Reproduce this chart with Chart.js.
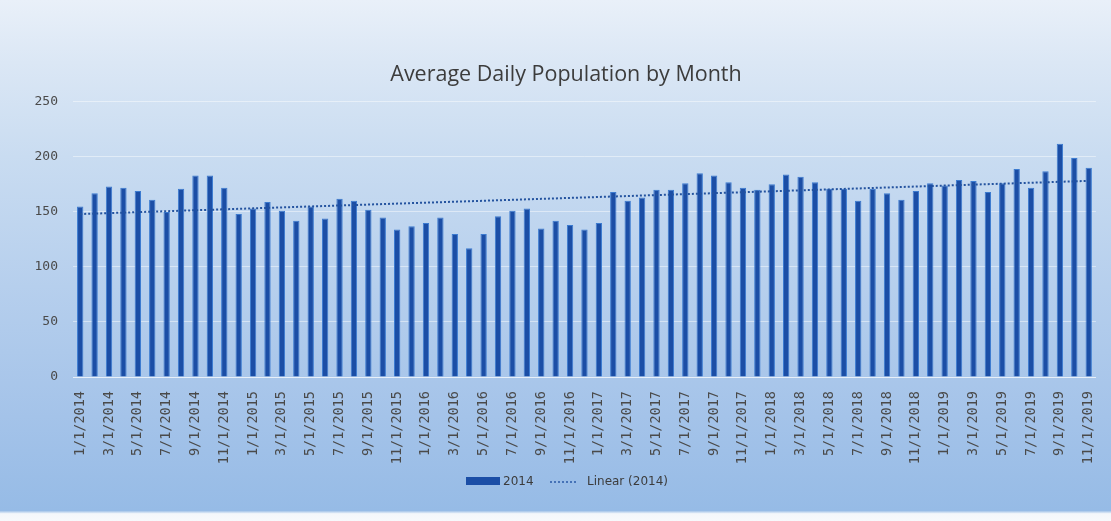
<!DOCTYPE html>
<html>
<head>
<meta charset="utf-8">
<script src="https://cdn.jsdelivr.net/npm/chart.js@4.4.1/dist/chart.umd.min.js"></script>
<style>
  html, body { margin: 0; padding: 0; }
  body {
    width: 1111px; height: 521px; overflow: hidden;
    background: linear-gradient(to bottom, #e9f0f9 0%, #dbe7f5 12%, #c9dcf1 30%, #b6cfed 55%, #a4c3e9 80%, #96bbe6 98%, #f4f7fb 98.6%, #f7f9fc 100%);
  }
  #wrap { position: absolute; left: 0; top: 0; width: 1111px; height: 521px; }
</style>
</head>
<body>
<div id="wrap"><canvas id="chart" width="1111" height="521"></canvas></div>
<script>
// categorii lunare 1/1/2014 .. 11/1/2019
const months = [
  '1/1/2014', '2/1/2014', '3/1/2014', '4/1/2014', '5/1/2014', '6/1/2014', '7/1/2014', '8/1/2014', '9/1/2014', '10/1/2014', '11/1/2014', '12/1/2014',
  '1/1/2015', '2/1/2015', '3/1/2015', '4/1/2015', '5/1/2015', '6/1/2015', '7/1/2015', '8/1/2015', '9/1/2015', '10/1/2015', '11/1/2015', '12/1/2015',
  '1/1/2016', '2/1/2016', '3/1/2016', '4/1/2016', '5/1/2016', '6/1/2016', '7/1/2016', '8/1/2016', '9/1/2016', '10/1/2016', '11/1/2016', '12/1/2016',
  '1/1/2017', '2/1/2017', '3/1/2017', '4/1/2017', '5/1/2017', '6/1/2017', '7/1/2017', '8/1/2017', '9/1/2017', '10/1/2017', '11/1/2017', '12/1/2017',
  '1/1/2018', '2/1/2018', '3/1/2018', '4/1/2018', '5/1/2018', '6/1/2018', '7/1/2018', '8/1/2018', '9/1/2018', '10/1/2018', '11/1/2018', '12/1/2018',
  '1/1/2019', '2/1/2019', '3/1/2019', '4/1/2019', '5/1/2019', '6/1/2019', '7/1/2019', '8/1/2019', '9/1/2019', '10/1/2019', '11/1/2019'
];

// populatia medie zilnica
const population = [
  155, 167, 173, 172, 169, 161, 150, 171, 183, 183, 172, 148,
  153, 159, 151, 142, 155, 144, 162, 160, 152, 145, 134, 137,
  140, 145, 130, 117, 130, 146, 151, 153, 135, 142, 138, 134,
  140, 168, 160, 163, 170, 170, 176, 185, 183, 177, 172, 170,
  175, 184, 182, 177, 171, 171, 160, 171, 167, 161, 169, 176,
  174, 179, 178, 168, 176, 189, 172, 187, 212, 199, 190
];

const yTicks = [0, 50, 100, 150, 200, 250];

// trendline liniar (least squares), ca in Excel
function linearTrend(vals) {
  const n = vals.length;
  let sx = 0, sy = 0, sxy = 0, sxx = 0;
  vals.forEach((v, i) => { sx += i; sy += v; sxy += i * v; sxx += i * i; });
  const b = (n * sxy - sx * sy) / (n * sxx - sx * sx);
  const a = (sy - b * sx) / n;
  return vals.map((_, i) => a + b * i);
}
const trend = linearTrend(population);

const textGray = '#3c3c3c';
const monoFont = '"DejaVu Sans Mono", "Liberation Mono", monospace';

// legenda desenata manual (cutie lata + linie punctata)
const legendPlugin = {
  id: 'customLegend',
  afterDraw(chart) {
    const ctx = chart.ctx;
    const y = 481;
    ctx.save();
    ctx.fillStyle = '#1b4ea6';
    ctx.fillRect(466, y - 4, 34, 8);
    ctx.font = '12px "DejaVu Sans", sans-serif';
    ctx.fillStyle = textGray;
    ctx.textBaseline = 'middle';
    ctx.fillText('2014', 503, y + 1);
    ctx.strokeStyle = '#2a5aa8';
    ctx.lineWidth = 1.5;
    ctx.setLineDash([2, 2]);
    ctx.beginPath();
    ctx.moveTo(550, y + 1);
    ctx.lineTo(578, y + 1);
    ctx.stroke();
    ctx.setLineDash([]);
    ctx.fillText('Linear (2014)', 587, y + 1);
    ctx.restore();
  },
};

new Chart(document.getElementById('chart'), {
  data: {
    labels: months,
    datasets: [
      {
        type: 'bar',
        label: '2014',
        data: population,
        backgroundColor: '#1b4ea6',
        borderColor: '#3c7bd0',
        borderWidth: 1,
        barPercentage: 0.44,
        categoryPercentage: 1,
        order: 2,
      },
      {
        type: 'line',
        label: 'Linear (2014)',
        data: trend,
        borderColor: '#24539f',
        borderWidth: 2,
        borderDash: [2, 2],
        pointRadius: 0,
        fill: false,
        order: 1,
      },
    ],
  },
  options: {
    responsive: false,
    animation: false,
    layout: { padding: { left: 32, right: 11, top: 0, bottom: 0 } },
    plugins: {
      legend: { display: false },
      tooltip: { enabled: false },
      title: {
        display: true,
        text: 'Average Daily Population by Month',
        color: textGray,
        font: { family: '"Open Sans", sans-serif', size: 21.5, weight: 'normal' },
        padding: { top: 62, bottom: 14 },
      },
    },
    scales: {
      x: {
        grid: { display: false },
        border: { display: true, color: 'rgba(255,255,255,0.5)' },
        ticks: {
          autoSkip: false,
          maxRotation: 90,
          minRotation: 90,
          padding: 6,
          color: '#4a4a4a',
          font: { family: monoFont, size: 13.5 },
          callback: (val, i) => (i % 2 === 0 ? months[i] : ''),
        },
        afterFit: (s) => { s.height = 144; },
      },
      y: {
        min: 0,
        max: 250,
        afterBuildTicks: (s) => { s.ticks = yTicks.map((v) => ({ value: v })); },
        grid: { color: 'rgba(255,255,255,0.45)', drawTicks: false },
        border: { display: false },
        ticks: {
          padding: 15,
          color: '#4a4a4a',
          font: { family: monoFont, size: 13 },
        },
        afterFit: (s) => { s.width = 41; },
      },
    },
  },
  plugins: [legendPlugin],
});
</script>
</body>
</html>
